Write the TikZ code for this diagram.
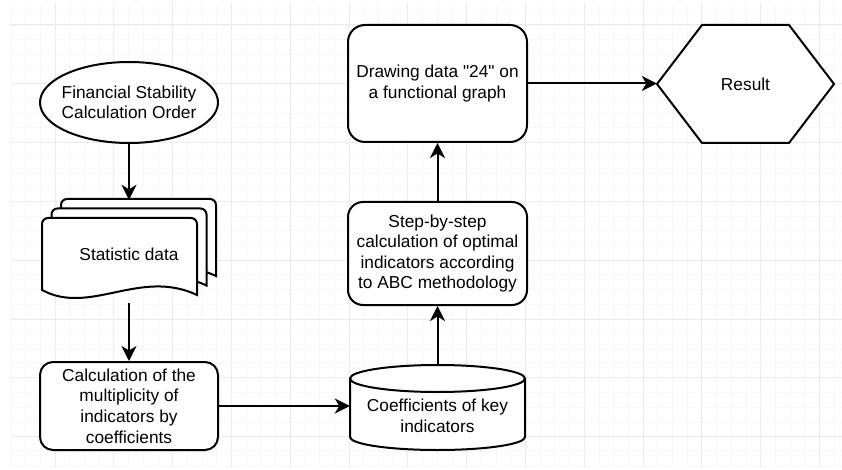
\documentclass[tikz,border=0pt]{standalone}
\usepackage{fontspec}
\setmainfont{Liberation Sans}[Ligatures=TeXOff]
\usetikzlibrary{shapes.geometric}
\usetikzlibrary{arrows.meta}

\begin{document}
\begin{tikzpicture}[x=1pt, y=-1pt]
    \tikzstyle{shapeline} = [line width=2pt]
    \tikzstyle{block} = [shapeline, draw, fill=white, align=center, inner sep=0pt, font=\fontsize{17.3}{20.6}\selectfont]
    \tikzstyle{plaintext} = [align=center, inner sep=0pt, font=\fontsize{17.3}{20.6}\selectfont]
    \tikzstyle{flow} = [line width=2pt, -{Stealth[length=15pt, width=15pt, inset=4.5pt]}]
    \tikzstyle{minorline} = [draw=black!3, line width=0.8pt]
    \tikzstyle{majorline} = [draw=black!8, line width=1pt]

    \useasboundingbox[fill=white] (0, 0) rectangle (842, 470);

    % grid
    \begin{scope}
        \clip (10, 3) rectangle (842, 466);
        \foreach \x in {10.9, 25.6, ..., 842} \draw[minorline] (\x, 3) -- (\x, 466);
        \foreach \y in {10.3, 25, ..., 466} \draw[minorline] (10, \y) -- (842, \y);
        \foreach \x in {55, 113.8, ..., 842} \draw[majorline] (\x, 3) -- (\x, 466);
        \foreach \y in {25, 83.8, ..., 466} \draw[majorline] (10, \y) -- (842, \y);
    \end{scope}

    % outlines
    \foreach \d in {2, 1, 0}
        \draw[shapeline, fill=white, shift={(9.5*\d, -9.5*\d)}]
            (42, 290) [rounded corners=6pt] -- (42, 218) -- (197, 218) -- (197, 250)
            [sharp corners] -- (197, 295) .. controls (140, 268) and (90, 316) .. (42, 290) -- cycle;
    \draw[shapeline, fill=white] (350, 378.5) -- (350, 437)
        arc[start angle=180, end angle=360, x radius=87.5pt, y radius=13pt] -- (525, 378.5)
        arc[start angle=0, end angle=180, x radius=87.5pt, y radius=13.5pt] -- cycle;
    \draw[shapeline] (350, 378.5) arc[start angle=180, end angle=360, x radius=87.5pt, y radius=13.5pt];
    \draw[shapeline, fill=white] (657, 84) -- (702, 25) -- (789, 25) -- (834, 84) -- (789, 143) -- (702, 143) -- cycle;

    % nodes
    \node[block, ellipse, minimum width=178pt, minimum height=81pt] (order) at (129, 102.5) {};
    \node[plaintext] (ordertext) at (order) {Financial Stability\\Calculation Order};
    \node[plaintext, minimum width=175pt, minimum height=103pt] (stat) at (129, 251.5) {};
    \node[plaintext] (stattext) at (129, 254) {Statistic data};
    \node[block, rounded corners=13pt, minimum width=178pt, minimum height=88pt] (calc) at (129, 406)
        {Calculation of the\\multiplicity of\\indicators by\\coefficients};
    \node[plaintext, minimum width=175pt, minimum height=85pt] (coef) at (437.5, 407.5) {};
    \node[plaintext] (coeftext) at (437.5, 416) {Coefficients of key\\indicators};
    \node[block, rounded corners=15pt, minimum width=179pt, minimum height=103pt] (steps) at (437.5, 253.5)
        {Step-by-step\\calculation of optimal\\indicators according\\to ABC methodology};
    \node[block, rounded corners=17pt, minimum width=179pt, minimum height=117pt] (drawdata) at (437.5, 83.5)
        {Drawing data "24" on\\a functional graph};
    \node[plaintext, minimum width=177pt, minimum height=118pt] (res) at (745.5, 84) {Result};

    % connectors
    \draw[flow] (order) -- (stat);
    \draw[flow] (stat) -- (calc);
    \draw[flow] (calc.east) -- (calc.east -| coef.west);
    \draw[flow] (coef) -- (steps);
    \draw[flow] (steps) -- (drawdata);
    \draw[flow] (drawdata.east) -- (drawdata.east -| res.west);
\end{tikzpicture}
\end{document}
